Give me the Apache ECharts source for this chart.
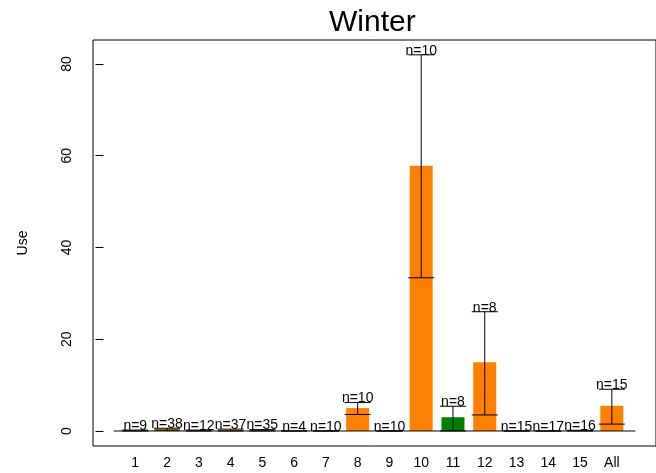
<!DOCTYPE html>
<html>
<head>
<meta charset="utf-8">
<script src="https://cdn.jsdelivr.net/npm/echarts@6/dist/echarts.min.js"></script>
<style>
  html, body { margin: 0; padding: 0; background: #fff; }
  #main { width: 656px; height: 473px; }
</style>
</head>
<body>
<div id="main"></div>
<script>
// categories along the x axis
const categories = ['1', '2', '3', '4', '5', '6', '7', '8', '9', '10', '11', '12', '13', '14', '15', 'All']
// mean use per category
const useMean = [0.1, 0.4, 0.1, 0.2, 0.15, 0, 0, 5.0, 0, 57.8, 3.0, 15.0, 0, 0, 0.05, 5.5]
// error bar bounds
const useLower = [0, 0.2, 0, 0, 0, 0, 0, 3.6, 0, 33.4, 0, 3.5, 0, 0, 0, 1.5]
const useUpper = [0.2, 0.6, 0.2, 0.4, 0.3, 0, 0, 6.2, 0, 82.0, 5.4, 26.0, 0, 0, 0.15, 9.1]
// sample sizes
const sampleN = [9, 38, 12, 37, 35, 4, 10, 10, 10, 10, 8, 8, 15, 17, 16, 15]
// bar colour group (o = orange, g = green)
const barGroup = ['g', 'o', 'g', 'o', 'g', 'g', 'g', 'o', 'g', 'o', 'g', 'o', 'g', 'g', 'g', 'o']
// y tick labels
const yTicks = [0, 20, 40, 60, 80]
// horizontal zero line extent (x axis units)
const baseLine = [[0.32, 0], [16.74, 0]]

const groupColors = { o: '#ff8000', g: '#008000' }
const fontFamily = 'Liberation Sans, Arial, sans-serif'
const xPos = categories.map((c, i) => i + 1)

const chart = echarts.init(document.getElementById('main'))

const barData = xPos.map((x, i) => [x, useMean[i]])
const errData = xPos.map((x, i) => [x, useLower[i], useUpper[i]])
const labelData = xPos.map((x, i) => [x, useUpper[i], sampleN[i]])

const option = {
  animation: false,
  textStyle: { fontFamily },
  title: {
    text: 'Winter',
    left: 324,
    top: 3,
    textStyle: { fontSize: 30, fontWeight: 'normal', color: '#000', fontFamily }
  },
  grid: {
    left: 93,
    top: 40,
    bottom: 27,
    right: -10,
    show: true,
    borderColor: '#000',
    borderWidth: 1
  },
  xAxis: {
    type: 'value',
    min: -0.33,
    max: 17.39,
    axisLine: { show: false },
    axisTick: { show: false },
    splitLine: { show: false },
    axisLabel: {
      customValues: xPos,
      formatter: v => categories[Math.round(v) - 1] || '',
      color: '#000',
      fontSize: 14,
      margin: 10
    }
  },
  yAxis: {
    type: 'value',
    name: 'Use',
    nameLocation: 'middle',
    nameGap: 63,
    nameRotate: 90,
    nameTextStyle: { fontSize: 14, color: '#000' },
    min: -3.27,
    max: 85.23,
    axisLine: { show: false },
    splitLine: { show: false },
    axisTick: {
      customValues: yTicks,
      length: 8,
      lineStyle: { color: '#000', width: 1 }
    },
    axisLabel: {
      customValues: yTicks,
      rotate: 90,
      color: '#000',
      fontSize: 14,
      margin: 19
    }
  },
  series: [
    {
      type: 'custom',
      name: 'bars',
      data: barData,
      renderItem(params, api) {
        const x = api.value(0)
        const top = api.coord([x, api.value(1)])
        const base = api.coord([x, 0])
        const w = 23
        return {
          type: 'rect',
          shape: { x: top[0] - w / 2, y: top[1], width: w, height: base[1] - top[1] },
          style: { fill: groupColors[barGroup[params.dataIndex]] }
        }
      },
      z: 2
    },
    {
      type: 'line',
      name: 'zero',
      data: baseLine,
      symbol: 'none',
      lineStyle: { color: '#000', width: 1 },
      z: 3
    },
    {
      type: 'custom',
      name: 'errors',
      data: errData,
      renderItem(params, api) {
        const x = api.value(0)
        const lo = api.coord([x, api.value(1)])
        const hi = api.coord([x, api.value(2)])
        const hw = 13
        const style = { stroke: '#000', lineWidth: 1 }
        return {
          type: 'group',
          children: [
            { type: 'line', shape: { x1: lo[0], y1: lo[1], x2: hi[0], y2: hi[1] }, style },
            { type: 'line', shape: { x1: lo[0] - hw, y1: lo[1], x2: lo[0] + hw, y2: lo[1] }, style },
            { type: 'line', shape: { x1: hi[0] - hw, y1: hi[1], x2: hi[0] + hw, y2: hi[1] }, style }
          ]
        }
      },
      z: 4
    },
    {
      type: 'custom',
      name: 'labels',
      data: labelData,
      renderItem(params, api) {
        const p = api.coord([api.value(0), api.value(1)])
        return {
          type: 'text',
          x: p[0],
          y: p[1] + 3,
          style: {
            text: 'n=' + api.value(2),
            fill: '#000',
            fontSize: 14,
            fontFamily,
            align: 'center',
            verticalAlign: 'bottom'
          }
        }
      },
      z: 5
    }
  ]
}

chart.setOption(option)
</script>
</body>
</html>
